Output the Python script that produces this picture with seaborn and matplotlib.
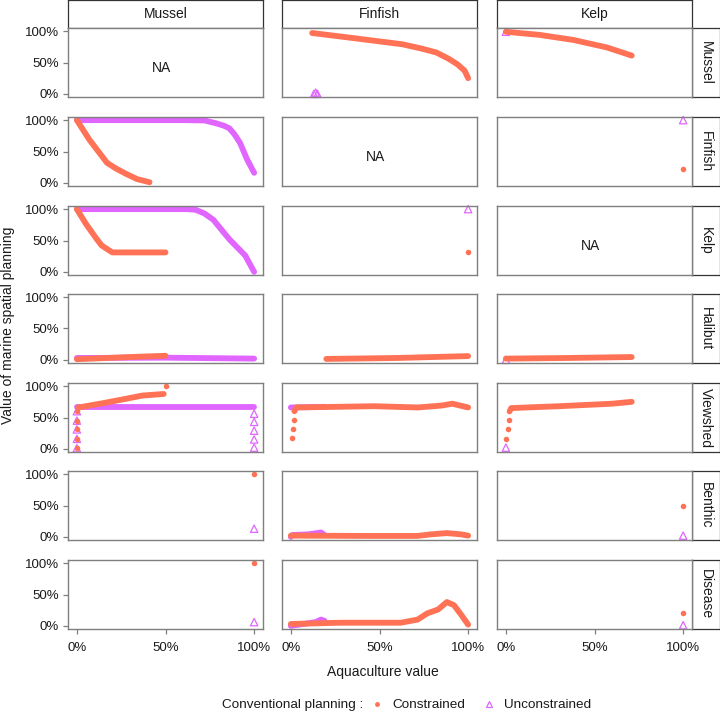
import matplotlib
matplotlib.use("Agg")
import matplotlib.pyplot as plt
from matplotlib.lines import Line2D
import seaborn as sns

sns.set_style("white")
plt.rcParams['font.family'] = ['Liberation Sans', 'DejaVu Sans']

aqua_cols = ["Mussel", "Finfish", "Kelp"]
msp_rows = ["Mussel", "Finfish", "Kelp", "Halibut", "Viewshed", "Benthic", "Disease"]
pct_ticks = [0, 0.5, 1]
pct_labels = ["0%", "50%", "100%"]

# --- Mussel MSP row
mus_fin_con_x = [0.12, 0.35, 0.63, 0.74, 0.82, 0.89, 0.94, 0.98, 1.0]
mus_fin_con_y = [0.97, 0.89, 0.79, 0.72, 0.66, 0.56, 0.47, 0.37, 0.25]
mus_fin_unc_px = [0.13, 0.14, 0.15]
mus_fin_unc_py = [0.0, 0.02, 0.0]
mus_kelp_con_x = [0.0, 0.19, 0.38, 0.57, 0.71]
mus_kelp_con_y = [0.99, 0.94, 0.86, 0.74, 0.61]
mus_kelp_unc_px = [0.0]
mus_kelp_unc_py = [0.99]

# --- Finfish MSP row
fin_mus_unc_x = [0.0, 0.6, 0.72, 0.785, 0.83, 0.86, 0.89, 0.92, 0.96, 1.0]
fin_mus_unc_y = [1.0, 1.0, 0.995, 0.95, 0.91, 0.87, 0.77, 0.64, 0.375, 0.16]
fin_mus_con_x = [0.0, 0.07, 0.17, 0.22, 0.28, 0.34, 0.41]
fin_mus_con_y = [1.0, 0.69, 0.32, 0.23, 0.14, 0.06, 0.01]
fin_kelp_con_px = [1.0]
fin_kelp_con_py = [0.22]
fin_kelp_unc_px = [1.0]
fin_kelp_unc_py = [1.0]

# --- Kelp MSP row
kelp_mus_unc_x = [0.0, 0.62, 0.67, 0.72, 0.77, 0.86, 0.95, 1.0]
kelp_mus_unc_y = [1.0, 1.0, 0.99, 0.93, 0.83, 0.52, 0.26, 0.0]
kelp_mus_con_x = [0.0, 0.05, 0.11, 0.14, 0.2, 0.5]
kelp_mus_con_y = [1.0, 0.77, 0.53, 0.42, 0.31, 0.31]
kelp_fin_con_px = [1.0]
kelp_fin_con_py = [0.31]
kelp_fin_unc_px = [1.0]
kelp_fin_unc_py = [1.0]

# --- Halibut MSP row
hal_mus_unc_x = [0.0, 0.5, 1.0]
hal_mus_unc_y = [0.03, 0.035, 0.02]
hal_mus_con_x = [0.0, 0.25, 0.5]
hal_mus_con_y = [0.01, 0.04, 0.065]
hal_fin_con_x = [0.2, 0.6, 1.0]
hal_fin_con_y = [0.015, 0.03, 0.06]
hal_kelp_con_x = [0.0, 0.35, 0.71]
hal_kelp_con_y = [0.02, 0.03, 0.045]
hal_kelp_unc_px = [0.0]
hal_kelp_unc_py = [0.0]

# --- Viewshed MSP row
view_mus_unc_x = [0.0, 1.0]
view_mus_unc_y = [0.66, 0.66]
view_mus_con_x = [0.01, 0.15, 0.28, 0.37, 0.49]
view_mus_con_y = [0.66, 0.73, 0.80, 0.85, 0.875]
view_mus_con_px = [0.5, 0.0, 0.0, 0.0, 0.0, 0.0]
view_mus_con_py = [1.0, 0.01, 0.16, 0.31, 0.45, 0.6]
view_mus_unc_px = [0.0, 0.0, 0.0, 0.0, 0.0, 1.0, 1.0, 1.0, 1.0, 1.0]
view_mus_unc_py = [0.01, 0.16, 0.31, 0.45, 0.6, 0.02, 0.15, 0.29, 0.43, 0.56]
view_fin_unc_x = [0.0, 0.19]
view_fin_unc_y = [0.66, 0.67]
view_fin_con_px = [0.005, 0.01, 0.017]
view_fin_con_py = [0.17, 0.32, 0.46]
view_fin_con_x = [0.02, 0.03, 0.47, 0.715, 0.85, 0.91, 1.0]
view_fin_con_y = [0.60, 0.66, 0.68, 0.66, 0.69, 0.72, 0.66]
view_kelp_unc_px = [0.0]
view_kelp_unc_py = [0.02]
view_kelp_con_px = [0.0, 0.01, 0.015, 0.02]
view_kelp_con_py = [0.16, 0.31, 0.46, 0.6]
view_kelp_con_x = [0.025, 0.03, 0.3, 0.6, 0.71]
view_kelp_con_y = [0.62, 0.65, 0.68, 0.72, 0.75]

# --- Benthic MSP row
ben_mus_con_px = [1.0]
ben_mus_con_py = [1.0]
ben_mus_unc_px = [1.0]
ben_mus_unc_py = [0.13]
ben_fin_unc_x = [0.0, 0.01, 0.1, 0.17, 0.19]
ben_fin_unc_y = [0.0, 0.03, 0.04, 0.07, 0.03]
ben_fin_con_x = [0.0, 0.4, 0.715, 0.79, 0.88, 0.96, 1.0]
ben_fin_con_y = [0.02, 0.015, 0.015, 0.04, 0.06, 0.04, 0.02]
ben_kelp_con_px = [1.0]
ben_kelp_con_py = [0.49]
ben_kelp_unc_px = [1.0]
ben_kelp_unc_py = [0.02]

# --- Disease MSP row
dis_mus_con_px = [1.0]
dis_mus_con_py = [1.0]
dis_mus_unc_px = [1.0]
dis_mus_unc_py = [0.06]
dis_fin_unc_x = [0.0, 0.14, 0.17, 0.19]
dis_fin_unc_y = [0.0, 0.06, 0.1, 0.08]
dis_fin_con_x = [0.0, 0.28, 0.62, 0.715, 0.77, 0.83, 0.88, 0.92, 0.96, 1.0]
dis_fin_con_y = [0.03, 0.05, 0.05, 0.1, 0.2, 0.26, 0.38, 0.33, 0.18, 0.02]
dis_kelp_con_px = [1.0]
dis_kelp_con_py = [0.2]
dis_kelp_unc_px = [1.0]
dis_kelp_unc_py = [0.01]

# (row, col) -> lines and points, each a list of (x, y)
panels = {
    (0, 1): dict(con_l=[(mus_fin_con_x, mus_fin_con_y)], unc_p=[(mus_fin_unc_px, mus_fin_unc_py)]),
    (0, 2): dict(con_l=[(mus_kelp_con_x, mus_kelp_con_y)], unc_p=[(mus_kelp_unc_px, mus_kelp_unc_py)]),
    (1, 0): dict(unc_l=[(fin_mus_unc_x, fin_mus_unc_y)], con_l=[(fin_mus_con_x, fin_mus_con_y)]),
    (1, 2): dict(con_p=[(fin_kelp_con_px, fin_kelp_con_py)], unc_p=[(fin_kelp_unc_px, fin_kelp_unc_py)]),
    (2, 0): dict(unc_l=[(kelp_mus_unc_x, kelp_mus_unc_y)], con_l=[(kelp_mus_con_x, kelp_mus_con_y)]),
    (2, 1): dict(con_p=[(kelp_fin_con_px, kelp_fin_con_py)], unc_p=[(kelp_fin_unc_px, kelp_fin_unc_py)]),
    (3, 0): dict(unc_l=[(hal_mus_unc_x, hal_mus_unc_y)], con_l=[(hal_mus_con_x, hal_mus_con_y)]),
    (3, 1): dict(con_l=[(hal_fin_con_x, hal_fin_con_y)]),
    (3, 2): dict(con_l=[(hal_kelp_con_x, hal_kelp_con_y)], unc_p=[(hal_kelp_unc_px, hal_kelp_unc_py)]),
    (4, 0): dict(unc_l=[(view_mus_unc_x, view_mus_unc_y)], con_l=[(view_mus_con_x, view_mus_con_y)],
                 unc_p=[(view_mus_unc_px, view_mus_unc_py)], con_p=[(view_mus_con_px, view_mus_con_py)]),
    (4, 1): dict(unc_l=[(view_fin_unc_x, view_fin_unc_y)], con_l=[(view_fin_con_x, view_fin_con_y)],
                 con_p=[(view_fin_con_px, view_fin_con_py)]),
    (4, 2): dict(con_l=[(view_kelp_con_x, view_kelp_con_y)], con_p=[(view_kelp_con_px, view_kelp_con_py)],
                 unc_p=[(view_kelp_unc_px, view_kelp_unc_py)]),
    (5, 0): dict(con_p=[(ben_mus_con_px, ben_mus_con_py)], unc_p=[(ben_mus_unc_px, ben_mus_unc_py)]),
    (5, 1): dict(unc_l=[(ben_fin_unc_x, ben_fin_unc_y)], con_l=[(ben_fin_con_x, ben_fin_con_y)]),
    (5, 2): dict(con_p=[(ben_kelp_con_px, ben_kelp_con_py)], unc_p=[(ben_kelp_unc_px, ben_kelp_unc_py)]),
    (6, 0): dict(con_p=[(dis_mus_con_px, dis_mus_con_py)], unc_p=[(dis_mus_unc_px, dis_mus_unc_py)]),
    (6, 1): dict(unc_l=[(dis_fin_unc_x, dis_fin_unc_y)], con_l=[(dis_fin_con_x, dis_fin_con_y)]),
    (6, 2): dict(con_p=[(dis_kelp_con_px, dis_kelp_con_py)], unc_p=[(dis_kelp_unc_px, dis_kelp_unc_py)]),
}

con_col = "#FF7256"
unc_col = "#E066FF"
frame_col = "#7f7f7f"

W, H = 720, 713
fig = plt.figure(figsize=(W / 100, H / 100), dpi=100)

col_x = [68, 282, 497]
row_y = [28, 117, 206, 294, 383, 471, 560]
pw, ph = 195, 69


def rect(x, y, w, h):
    return [x / W, 1 - (y + h) / H, w / W, h / H]


def strip(x, y, w, h, text, rot=0):
    s = fig.add_axes(rect(x, y, w, h))
    s.set_xticks([])
    s.set_yticks([])
    for sp in s.spines.values():
        sp.set_color("#333333")
        sp.set_linewidth(0.9)
    s.text(0.5, 0.5, text, rotation=rot, ha="center", va="center", fontsize=10,
           color="#1a1a1a", transform=s.transAxes)


for j, name in enumerate(aqua_cols):
    strip(col_x[j], 0, pw, 28, name)
for i, name in enumerate(msp_rows):
    strip(692, row_y[i], 27.5, ph, name, rot=-90)

for i in range(len(msp_rows)):
    for j in range(len(aqua_cols)):
        ax = fig.add_axes(rect(col_x[j], row_y[i], pw, ph))
        ax.set_xlim(-0.05, 1.05)
        ax.set_ylim(-0.05, 1.05)
        for sp in ax.spines.values():
            sp.set_color(frame_col)
            sp.set_linewidth(1.0)
        ax.tick_params(colors=frame_col, labelcolor="#1a1a1a", labelsize=9.5,
                       length=3.5, width=0.9, left=(j == 0), bottom=(i == 6))
        ax.tick_params(axis="y", pad=3)
        ax.tick_params(axis="x", pad=6)
        if j == 0:
            ax.set_yticks(pct_ticks, pct_labels)
        else:
            ax.set_yticks([])
        if i == 6:
            ax.set_xticks(pct_ticks, pct_labels)
        else:
            ax.set_xticks([])
        if i == j:
            ax.text(0.48, 0.42, "NA", ha="center", va="center", fontsize=10, color="#1a1a1a")
            continue
        p = panels.get((i, j), {})
        for xs, ys in p.get("unc_l", []):
            sns.lineplot(x=xs, y=ys, ax=ax, color=unc_col, linewidth=4.2, sort=False,
                         estimator=None, solid_capstyle="round", solid_joinstyle="round")
        for xs, ys in p.get("con_l", []):
            sns.lineplot(x=xs, y=ys, ax=ax, color=con_col, linewidth=4.2, sort=False,
                         estimator=None, solid_capstyle="round", solid_joinstyle="round")
        for xs, ys in p.get("unc_p", []):
            pts = sns.scatterplot(x=xs, y=ys, ax=ax, marker="^", s=28, color=unc_col,
                                  linewidth=0.9, clip_on=False)
            pts.collections[-1].set_facecolor("none")
            pts.collections[-1].set_edgecolor(unc_col)
        for xs, ys in p.get("con_p", []):
            sns.scatterplot(x=xs, y=ys, ax=ax, marker="o", s=16, color=con_col,
                            linewidth=0, clip_on=False)
        ax.set_xlim(-0.05, 1.05)
        ax.set_ylim(-0.05, 1.05)
        ax.set_xlabel("")
        ax.set_ylabel("")

fig.text(8 / W, 1 - 325 / H, "Value of marine spatial planning", rotation=90,
         ha="center", va="center", fontsize=10, color="#1a1a1a")
fig.text(383 / W, 1 - 672 / H, "Aquaculture value", ha="center", va="center",
         fontsize=10, color="#1a1a1a")

fig.text(222 / W, 1 - 705 / H, "Conventional planning :", ha="left", va="center",
         fontsize=9.7, color="#1a1a1a")
handles = [
    Line2D([], [], linestyle="none", marker="o", markersize=3.5, color=con_col, markeredgewidth=0),
    Line2D([], [], linestyle="none", marker="^", markersize=5, markerfacecolor="none",
           markeredgecolor=unc_col, markeredgewidth=0.9),
]
fig.legend(handles, ["Constrained", "Unconstrained"], ncol=2, frameon=False,
           loc="center left", bbox_to_anchor=(369 / W, 1 - 705 / H), fontsize=9.7,
           handlelength=1.2, handletextpad=0.5, columnspacing=1.2, borderaxespad=0,
           borderpad=0, labelcolor="#1a1a1a")

fig.savefig("out.png", dpi=100)
